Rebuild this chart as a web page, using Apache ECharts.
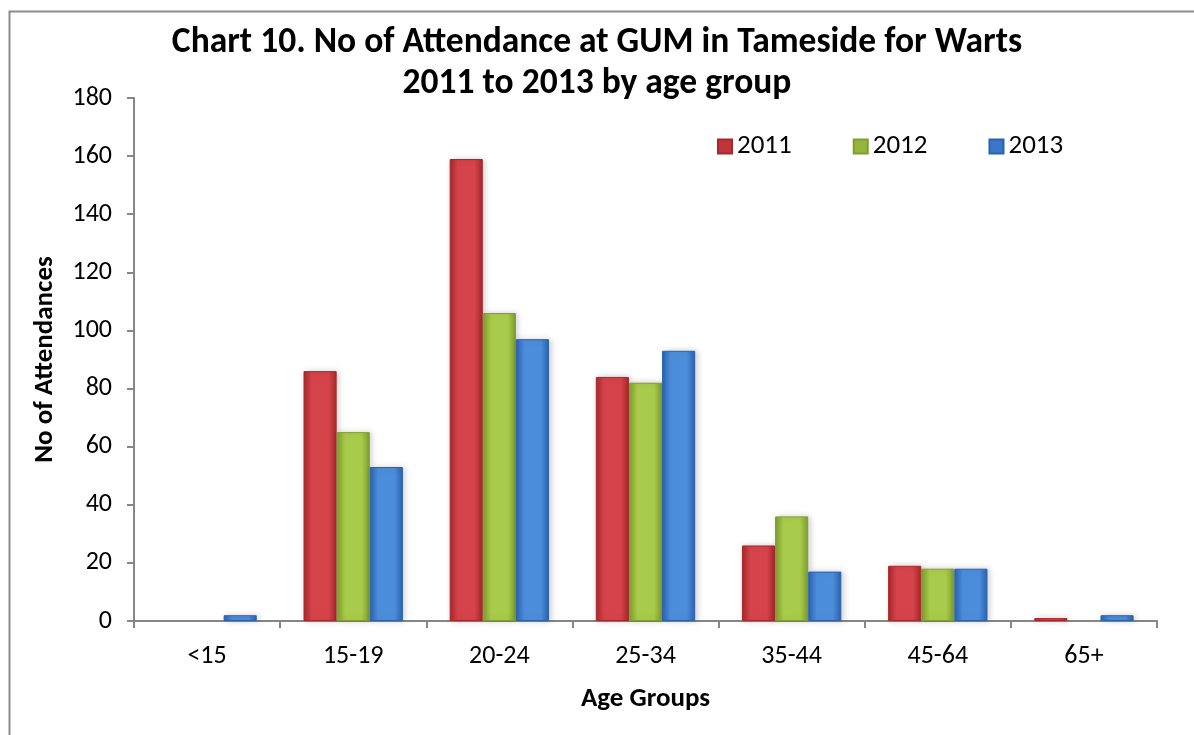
<!DOCTYPE html>
<html>
<head>
<meta charset="utf-8">
<script src="https://cdn.jsdelivr.net/npm/echarts@6/dist/echarts.min.js"></script>
<style>
html,body{margin:0;padding:0;background:#fff;}
#chart{width:1194px;height:735px;}
</style>
</head>
<body>
<div id="chart"></div>
<script>
const categories = ['<15','15-19','20-24','25-34','35-44','45-64','65+'];
const seriesNames = ['2011','2012','2013'];
const values2011 = [0, 86, 159, 84, 26, 19, 1];
const values2012 = [0, 65, 106, 82, 36, 18, 0];
const values2013 = [2, 53, 97, 93, 17, 18, 2];
const yTicks = [0,20,40,60,80,100,120,140,160,180];

const FONT = 'Carlito, Calibri, Lato, "Open Sans", sans-serif';

function grad(edge, mid){
  return new echarts.graphic.LinearGradient(0,0,1,0,[
    {offset:0, color:edge},
    {offset:0.25, color:mid},
    {offset:0.75, color:mid},
    {offset:1, color:edge}
  ]);
}
const colors = [
  {edge:'#A8272B', mid:'#D5444A', legend:'#C0353A'},
  {edge:'#7E9E2C', mid:'#A9CB4B', legend:'#94B63C'},
  {edge:'#2A62AE', mid:'#4C8DDB', legend:'#3B77C8'}
];
const data = [values2011, values2012, values2013];

const chart = echarts.init(document.getElementById('chart'));
chart.setOption({
  backgroundColor:'#fff',
  animation:false,
  graphic:[{
    type:'rect', left:7, top:9,
    shape:{width:1400, height:900},
    style:{fill:'none', stroke:'#8c8c8c', lineWidth:2}
  }],
  title:{
    text:'Chart 10. No of Attendance at GUM in Tameside for Warts\n2011 to 2013 by age group',
    left:'center', top:18,
    textStyle:{fontFamily:FONT, fontSize:35.5, fontWeight:'bold', color:'#000', lineHeight:41}
  },
  legend:{
    data:seriesNames.map((n,i)=>({name:n, itemStyle:{color:colors[i].legend}})),
    top:128, left:712,
    itemWidth:14, itemHeight:14, itemGap:61,
    icon:'rect',
    textStyle:{fontFamily:FONT, fontSize:27, color:'#000'}
  },
  grid:{left:134, right:37, top:98, bottom:114, containLabel:false},
  xAxis:{
    type:'category',
    data:categories,
    name:'Age Groups',
    nameLocation:'middle',
    nameGap:65,
    nameMoveOverlap:false,
    nameTextStyle:{fontFamily:FONT, fontSize:27, fontWeight:'bold', color:'#000'},
    axisLine:{lineStyle:{color:'#868686', width:2}},
    axisTick:{show:true, length:7, lineStyle:{color:'#868686', width:2}},
    axisLabel:{fontFamily:FONT, fontSize:26, color:'#000', margin:22}
  },
  yAxis:{
    type:'value',
    min:0, max:180, interval:20,
    name:'No of Attendances',
    nameLocation:'middle',
    nameGap:75,
    nameMoveOverlap:false,
    nameTextStyle:{fontFamily:FONT, fontSize:27, fontWeight:'bold', color:'#000'},
    axisLine:{show:true, lineStyle:{color:'#868686', width:2}},
    axisTick:{show:true, length:7, lineStyle:{color:'#868686', width:2}},
    splitLine:{show:false},
    axisLabel:{fontFamily:FONT, fontSize:26, color:'#000', margin:22,
      formatter:v=>yTicks.includes(v)?String(v):''}
  },
  series:seriesNames.map((n,i)=>({
    name:n,
    type:'bar',
    data:data[i].map(v => v === 0 ? {value:0, itemStyle:{borderWidth:0, shadowBlur:0, opacity:0}} : v),
    barGap:'0%',
    barCategoryGap:'32%',
    itemStyle:{
      color:grad(colors[i].edge, colors[i].mid),
      borderColor:colors[i].edge,
      borderWidth:1,
      shadowColor:'rgba(0,0,0,0.18)',
      shadowBlur:6,
      shadowOffsetX:2
    }
  }))
});
</script>
</body>
</html>
